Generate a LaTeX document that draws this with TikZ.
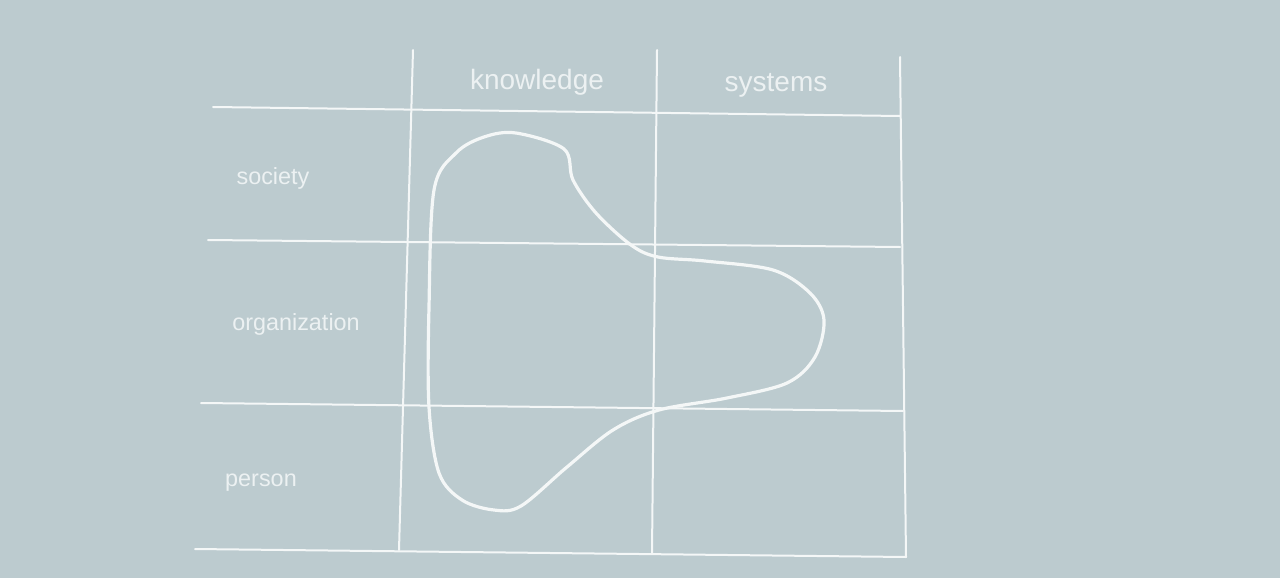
\documentclass[tikz,border=0pt]{standalone}
\usepackage{fontspec}
\setmainfont{Liberation Sans}
\definecolor{bg}{RGB}{188,203,207}
\definecolor{ink}{RGB}{244,247,247}
\definecolor{txt}{RGB}{236,241,242}
\tikzset{
  gridline/.style={draw=ink, line width=1pt, line cap=round},
  blob/.style={draw=ink, line width=1.6pt},
  head/.style={text=txt, font=\fontsize{14}{16}\selectfont, inner sep=0pt},
  rowlab/.style={text=txt, font=\fontsize{11.7}{14}\selectfont, inner sep=0pt}
}
\begin{document}
\begin{tikzpicture}[x=0.5pt,y=-0.5pt]
\fill[bg] (0,0) rectangle (1280,578);
\useasboundingbox (0,0) rectangle (1280,578);
% grid
\draw[gridline] (413,50) -- (399,550);
\draw[gridline] (657,50) -- (652,553);
\draw[gridline] (900,57) -- (906,557);
\draw[gridline] (213,107) -- (900,116);
\draw[gridline] (208,240) -- (900,247);
\draw[gridline] (201,403) -- (903,411);
\draw[gridline] (195,549) -- (906,557);
% labels
\node[head] (knowledge) at (537,82) {knowledge};
\node[head] (systems) at (776,85) {systems};
\node[rowlab] (society) at (273,178) {society};
\node[rowlab] (organization) at (296,324) {organization};
\node[rowlab] (person) at (261,483) {person};
% blob
\draw[blob] plot[smooth cycle, tension=0.55] coordinates {
  (516,133) (564,149) (573,180) (596,213) (631,245) (658,257)
  (705,261) (773,270) (810,293) (824,320) (815,357) (787,383)
  (727,398) (659,410) (613,430) (567,467) (521,506) (494,510)
  (462,500) (439,473) (429,407) (429,307) (434,190) (456,153) (484,137)
};
\end{tikzpicture}
\end{document}
